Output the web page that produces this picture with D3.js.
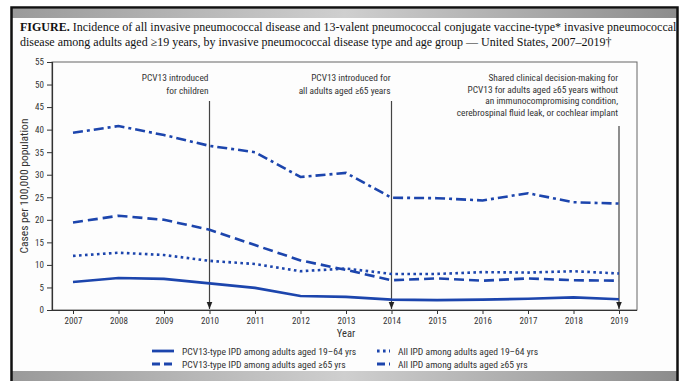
<!DOCTYPE html>
<html>
<head>
<meta charset="utf-8">
<script src="https://cdn.jsdelivr.net/npm/d3@7"></script>
<style>
	body { margin: 0; background: #fff; }
	svg text { fill: #333; }
</style>
</head>
<body>
<svg id="chart" width="685" height="381"></svg>
<script>

// values
var years = [2007, 2008, 2009, 2010, 2011, 2012, 2013, 2014, 2015, 2016, 2017, 2018, 2019];
var pcvYoung = [6.2, 7.1, 6.9, 5.9, 4.9, 3.1, 2.9, 2.3, 2.2, 2.3, 2.5, 2.8, 2.4];
var pcvOld = [19.4, 20.9, 20.0, 17.8, 14.4, 11.0, 8.9, 6.6, 7.0, 6.5, 7.0, 6.6, 6.5];
var allYoung = [12.0, 12.7, 12.2, 10.9, 10.2, 8.6, 9.2, 8.0, 8.0, 8.4, 8.3, 8.6, 8.1];
var allOld = [39.3, 40.8, 38.8, 36.4, 35.0, 29.5, 30.4, 24.9, 24.8, 24.3, 25.9, 23.9, 23.6];
var yTicks = [0, 5, 10, 15, 20, 25, 30, 35, 40, 45, 50, 55];

var seriesNames = [
	'PCV13-type IPD among adults aged 19\u201364 yrs',
	'PCV13-type IPD among adults aged \u226565 yrs',
	'All IPD among adults aged 19\u201364 yrs',
	'All IPD among adults aged \u226565 yrs'
];

var eventYears = [2010, 2014, 2019];
var eventNotes = [
	['PCV13 introduced', 'for children'],
	['PCV13 introduced for', 'all adults aged \u226565 years'],
	['Shared clinical decision-making for', 'PCV13 for adults aged \u226565 years without',
	 'an immunocompromising condition,', 'cerebrospinal fluid leak, or cochlear implant']
];

var titleLines = [
	'Incidence of all invasive pneumococcal disease and 13-valent pneumococcal conjugate vaccine-type* invasive pneumococcal',
	'disease among adults aged \u226519 years, by invasive pneumococcal disease type and age group \u2014 United States, 2007\u20132019\u2020'
];

var ipdChart = (function() {

	var svg = d3.select('#chart');
	var blue = '#1c45ad';
	var sans = '"Liberation Sans Narrow", "Roboto Condensed", Roboto, sans-serif';
	var dashes = [null, '10,5', '2.6,3.4', '10,4,3,4'];

	var x = d3.scaleLinear().domain([2007, 2019]).range([73, 619]);
	var y = d3.scaleLinear().domain([0, 55]).range([310, 62]);

	var init = function() {
		drawFrame();
		drawTitle();
		drawAxes();
		drawEvents();
		drawLines();
		drawLegend();
	}

	var drawFrame = function() {
		var grad = svg.append('defs').append('linearGradient')
			.attr('id', 'bar').attr('x1', 0).attr('x2', 1);
		grad.append('stop').attr('offset', 0).attr('stop-color', '#9a9a9a');
		grad.append('stop').attr('offset', 0.5).attr('stop-color', '#cfcfcf');
		grad.append('stop').attr('offset', 1).attr('stop-color', '#8c8c8c');

		svg.append('rect').attr('x', 12).attr('y', 8).attr('width', 666).attr('height', 373)
			.attr('fill', '#fdfdfd');
		svg.append('rect').attr('x', 12).attr('y', 9).attr('width', 666).attr('height', 9)
			.attr('fill', 'url(#bar)');
		svg.append('rect').attr('x', 12).attr('y', 371).attr('width', 666).attr('height', 10)
			.attr('fill', 'url(#bar)');
		svg.append('path').attr('d', 'M11.5,381V7.5H677.5V381')
			.attr('fill', 'none').attr('stroke', '#111').attr('stroke-width', 2.5);

		svg.append('clipPath').attr('id', 'page')
			.append('rect').attr('x', 13).attr('y', 9).attr('width', 663).attr('height', 362);
	}

	var drawTitle = function() {
		var g = svg.append('g').attr('clip-path', 'url(#page)')
			.style('font-family', '"Liberation Serif", serif')
			.style('font-size', '12px');

		var t1 = g.append('text').attr('x', 20).attr('y', 31).style('fill', '#111');
		t1.append('tspan').style('font-weight', 'bold').text('FIGURE. ');
		t1.append('tspan').text(titleLines[0]);

		g.append('text').attr('x', 20).attr('y', 46).style('fill', '#111').text(titleLines[1]);
	}

	var drawAxes = function() {
		svg.append('rect')
			.attr('x', x.range()[0] - 21).attr('y', y(55))
			.attr('width', 585).attr('height', y(0) - y(55))
			.attr('fill', 'none').attr('stroke', '#666').attr('stroke-width', 1);

		var yAxis = svg.append('g').attr('transform', 'translate(52,0)')
			.call(d3.axisLeft(y).tickValues(yTicks).tickSize(5).tickPadding(3));
		var xAxis = svg.append('g').attr('transform', 'translate(0,310)')
			.call(d3.axisBottom(x).tickValues(years).tickFormat(d3.format('d')).tickSize(4).tickPadding(4));

		[yAxis, xAxis].forEach(function(a) {
			a.select('.domain').attr('stroke', '#333').attr('stroke-width', 1.2);
			a.selectAll('.tick line').attr('stroke', '#333');
			a.selectAll('text').style('font-family', sans).style('font-size', '9px').style('fill', '#333');
		});
		xAxis.select('.domain').attr('d', 'M52,0.5H637');

		svg.append('text').attr('x', (x(2007) + x(2019)) / 2).attr('y', 337)
			.attr('text-anchor', 'middle')
			.style('font-family', sans).style('font-size', '10.5px')
			.text('Year');

		svg.append('text')
			.attr('transform', 'translate(28,' + (y(27.5)) + ') rotate(-90)')
			.attr('text-anchor', 'middle')
			.style('font-family', sans).style('font-size', '11.5px')
			.text('Cases per 100,000 population');
	}

	var drawEvents = function() {
		svg.append('defs').append('marker')
			.attr('id', 'arrow').attr('viewBox', '0 0 10 10')
			.attr('refX', 10).attr('refY', 5)
			.attr('markerWidth', 6).attr('markerHeight', 6)
			.attr('orient', 'auto')
			.append('path').attr('d', 'M0,1L10,5L0,9Z').attr('fill', '#222');

		var lineTops = [101, 101, 126];

		eventYears.forEach(function(yr, i) {
			svg.append('line')
				.attr('x1', x(yr)).attr('x2', x(yr))
				.attr('y1', lineTops[i]).attr('y2', y(0) - 1)
				.attr('stroke', '#444').attr('stroke-width', 1.2)
				.attr('marker-end', 'url(#arrow)');

			var note = svg.append('text')
				.attr('text-anchor', 'end')
				.style('font-family', sans).style('font-size', '9.4px');

			eventNotes[i].forEach(function(line, j) {
				note.append('tspan')
					.attr('x', x(yr) - 1)
					.attr('y', 81 + j * (i == 2 ? 11.7 : 12.5))
					.text(line);
			});
		});
	}

	var drawLines = function() {
		var all = [pcvYoung, pcvOld, allYoung, allOld];
		var line = d3.line()
			.x(function(d, i) { return x(years[i]); })
			.y(function(d) { return y(d); });

		svg.selectAll('path.series')
			.data(all)
			.enter()
				.append('path')
				.attr('class', 'series')
				.attr('d', line)
				.attr('fill', 'none')
				.attr('stroke', blue)
				.attr('stroke-width', 2.6)
				.attr('stroke-dasharray', function(d, i) { return dashes[i]; });
	}

	var drawLegend = function() {
		var cols = [152, 377];
		var rows = [351, 364];
		var sampleLen = [22, 22, 13, 13];
		var sampleDash = [null, '8,4', '2.6,3.4', '8,4,3,4'];

		seriesNames.forEach(function(name, i) {
			var cx = cols[Math.floor(i / 2)];
			var cy = rows[i % 2];

			svg.append('line')
				.attr('x1', cx).attr('x2', cx + sampleLen[i])
				.attr('y1', cy).attr('y2', cy)
				.attr('stroke', blue).attr('stroke-width', 2.8)
				.attr('stroke-dasharray', sampleDash[i]);

			svg.append('text')
				.attr('x', cx + (i < 2 ? 30 : 21)).attr('y', cy + 3.5)
				.style('font-family', sans).style('font-size', '9.6px')
				.text(name);
		});
	}

	return {
		'init': init
	}

})();

ipdChart.init();
</script>
</body>
</html>
